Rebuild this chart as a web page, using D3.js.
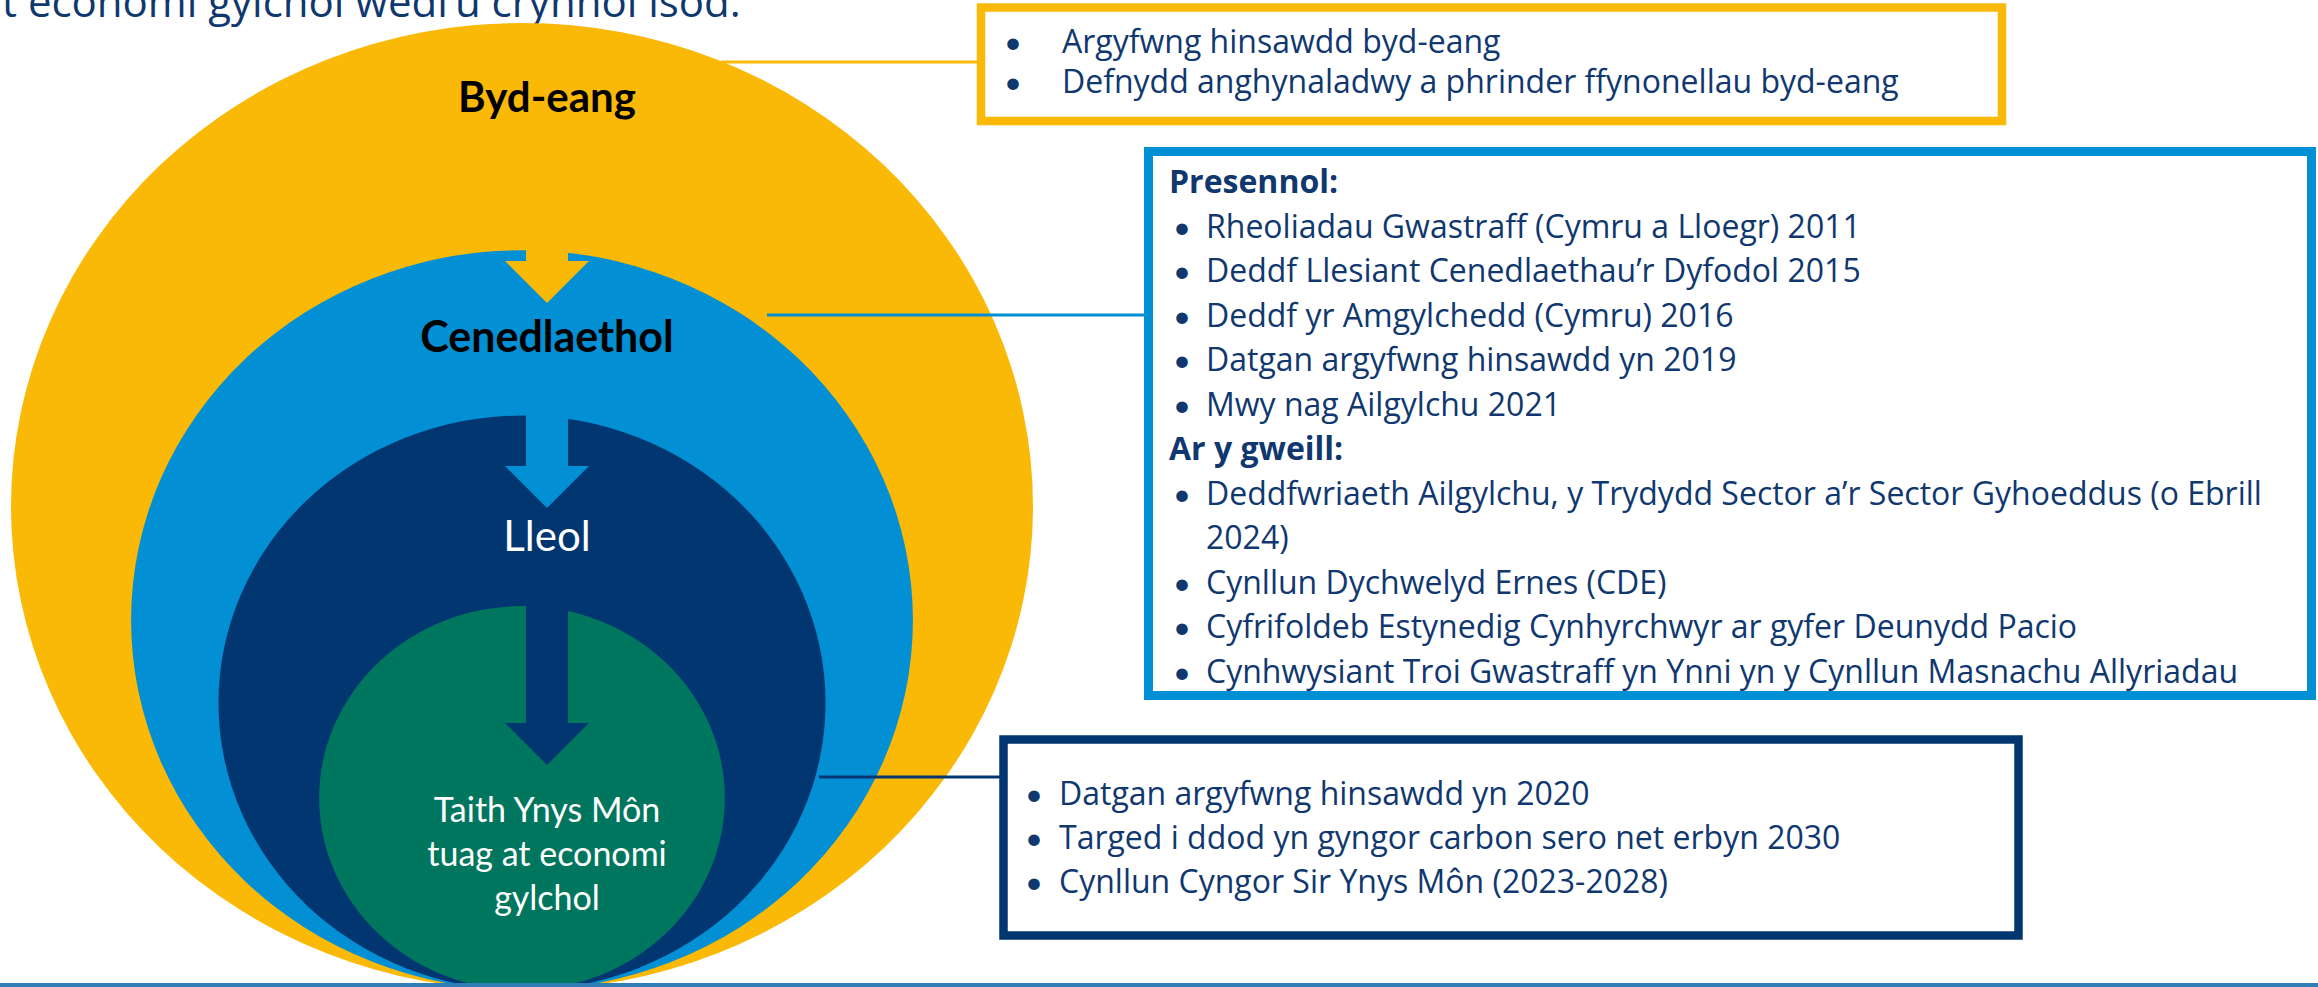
<!DOCTYPE html>
<html lang="cy">
<head>
<meta charset="utf-8">
<title>economi gylchol</title>
<style>
  body { margin: 0; background: #ffffff; }
  svg { display: block; }
  text { font-family: Lato, "Open Sans", sans-serif; }
  .level-label { text-anchor: middle; }
  .box-text { fill: #10386f; font-size: 32px; font-family: "Open Sans", Lato, sans-serif; }
  .box-head { font-weight: bold; }
  .bullet { fill: #10386f; font-size: 31px; font-family: Lato, sans-serif; }
  .title { fill: #10386f; font-size: 42px; font-family: "Open Sans", Lato, sans-serif; }
</style>
</head>
<body>
<script src="https://cdn.jsdelivr.net/npm/d3@7/dist/d3.min.js"></script>
<script>
// ---- data ----
var levels = ["Byd-eang", "Cenedlaethol", "Lleol", "Taith Ynys Môn"];
var levelColors = ["#f9b906", "#028fd4", "#023671", "#01765e"];
var levelLabels = [["Byd-eang"], ["Cenedlaethol"], ["Lleol"], ["Taith Ynys Môn", "tuag at economi", "gylchol"]];
var levelBold = [true, true, false, false];
var levelTextColors = ["#000000", "#000000", "#ffffff", "#ffffff"];

var titleText = "t economi gylchol wedi’u crynhoi isod.";

var globalItems = [
  "Argyfwng hinsawdd byd-eang",
  "Defnydd anghynaladwy a phrinder ffynonellau byd-eang"
];
var nationalNow = [
  "Rheoliadau Gwastraff (Cymru a Lloegr) 2011",
  "Deddf Llesiant Cenedlaethau’r Dyfodol 2015",
  "Deddf yr Amgylchedd (Cymru) 2016",
  "Datgan argyfwng hinsawdd yn 2019",
  "Mwy nag Ailgylchu 2021"
];
var nationalPlanned = [
  ["Deddfwriaeth Ailgylchu, y Trydydd Sector a’r Sector Gyhoeddus (o Ebrill", "2024)"],
  ["Cynllun Dychwelyd Ernes (CDE)"],
  ["Cyfrifoldeb Estynedig Cynhyrchwyr ar gyfer Deunydd Pacio"],
  ["Cynhwysiant Troi Gwastraff yn Ynni yn y Cynllun Masnachu Allyriadau"]
];
var localItems = [
  "Datgan argyfwng hinsawdd yn 2020",
  "Targed i ddod yn gyngor carbon sero net erbyn 2030",
  "Cynllun Cyngor Sir Ynys Môn (2023-2028)"
];

// ---- layout ----
var W = 2318, H = 987;
var cx = 522, baseY = 990;
var ringSize = [1, 0.765, 0.594, 0.397];
var rxScale = d3.scaleLinear().domain([0, 1]).range([0, 511]);
var ryScale = d3.scaleLinear().domain([0, 1]).range([0, 483.5]);
var labelX = 547;
var labelBaselines = [112, 352, 551, 822];
var labelSizes = [42, 43, 42, 34];
var arrowTips = [303, 508, 765];

var svg = d3.select("body").append("svg")
  .attr("width", W)
  .attr("height", H);

svg.append("text")
  .attr("class", "title")
  .attr("x", 2)
  .attr("y", 17)
  .text(titleText);

// nested ellipses, all sitting on the same bottom point
var rings = levels.map(function(name, i) {
  var rx = rxScale(ringSize[i]), ry = ryScale(ringSize[i]);
  return { name: name, i: i, rx: rx, ry: ry, cy: baseY - ry, top: baseY - 2 * ry };
});

svg.selectAll("ellipse.ring")
  .data(rings)
  .enter()
  .append("ellipse")
  .attr("class", "ring")
  .attr("cx", cx)
  .attr("cy", function(d) { return d.cy; })
  .attr("rx", function(d) { return d.rx; })
  .attr("ry", function(d) { return d.ry; })
  .attr("fill", function(d) { return levelColors[d.i]; });

// arrows dropping from each ring into the next one
var shaftW = 42, headW = 84, headH = 42;
svg.selectAll("path.arrow")
  .data(arrowTips)
  .enter()
  .append("path")
  .attr("class", "arrow")
  .attr("fill", function(d, i) { return levelColors[i]; })
  .attr("d", function(tip, i) {
    var top = rings[i + 1].top - 4;
    var hy = tip - headH;
    return "M" + (labelX - shaftW / 2) + "," + top +
      "H" + (labelX + shaftW / 2) +
      "V" + hy +
      "H" + (labelX + headW / 2) +
      "L" + labelX + "," + tip +
      "L" + (labelX - headW / 2) + "," + hy +
      "H" + (labelX - shaftW / 2) + "Z";
  });

// ring labels
rings.forEach(function(r) {
  var t = svg.append("text")
    .attr("class", "level-label")
    .attr("x", labelX)
    .attr("y", labelBaselines[r.i])
    .attr("fill", levelTextColors[r.i])
    .style("font-size", labelSizes[r.i] + "px")
    .style("font-weight", levelBold[r.i] ? "bold" : "normal");
  levelLabels[r.i].forEach(function(line, k) {
    t.append("tspan")
      .attr("x", labelX)
      .attr("dy", k === 0 ? 0 : 44)
      .text(line);
  });
});

// boxes with leader lines
var boxes = [
  { ring: 0, x: 981, y: 7.5, w: 1021, h: 113.5, sw: 8.5, leadY: 62, leadX: 721,
    bulletX: 1004, textX: 1062, y0: 53, step: 40,
    lines: globalItems.map(function(s) { return { t: s, bullet: true }; }) },
  { ring: 1, x: 1148.5, y: 151.5, w: 1163, h: 544, sw: 9, leadY: 315, leadX: 767,
    bulletX: 1173, textX: 1206, headX: 1169, y0: 193, step: 44.5,
    lines: [].concat(
      [{ t: "Presennol:", head: true }],
      nationalNow.map(function(s) { return { t: s, bullet: true }; }),
      [{ t: "Ar y gweill:", head: true }],
      d3.merge(nationalPlanned.map(function(item) {
        return item.map(function(s, k) { return { t: s, bullet: k === 0 }; });
      }))
    ) },
  { ring: 2, x: 1003.5, y: 739.5, w: 1015, h: 196, sw: 8.5, leadY: 777, leadX: 819,
    bulletX: 1025, textX: 1059, y0: 805, step: 44,
    lines: localItems.map(function(s) { return { t: s, bullet: true }; }) }
];

boxes.forEach(function(b) {
  var col = levelColors[b.ring];
  svg.append("line")
    .attr("x1", b.leadX).attr("x2", b.x)
    .attr("y1", b.leadY).attr("y2", b.leadY)
    .attr("stroke", col)
    .attr("stroke-width", 3);
  svg.append("rect")
    .attr("x", b.x).attr("y", b.y)
    .attr("width", b.w).attr("height", b.h)
    .attr("fill", "#ffffff")
    .attr("stroke", col)
    .attr("stroke-width", b.sw);

  var g = svg.append("g");
  b.lines.forEach(function(l, k) {
    var y = b.y0 + k * b.step;
    if (l.head) {
      g.append("text").attr("class", "box-text box-head")
        .attr("x", b.headX).attr("y", y).text(l.t);
      return;
    }
    if (l.bullet) {
      g.append("text").attr("class", "bullet")
        .attr("x", b.bulletX).attr("y", y).text("•");
    }
    g.append("text").attr("class", "box-text")
      .attr("x", b.textX).attr("y", y).text(l.t);
  });
});

// thin rule along the bottom of the slide
svg.append("rect")
  .attr("x", 0).attr("y", 983)
  .attr("width", W).attr("height", 4)
  .attr("fill", "#2f7db6");
</script>
</body>
</html>
